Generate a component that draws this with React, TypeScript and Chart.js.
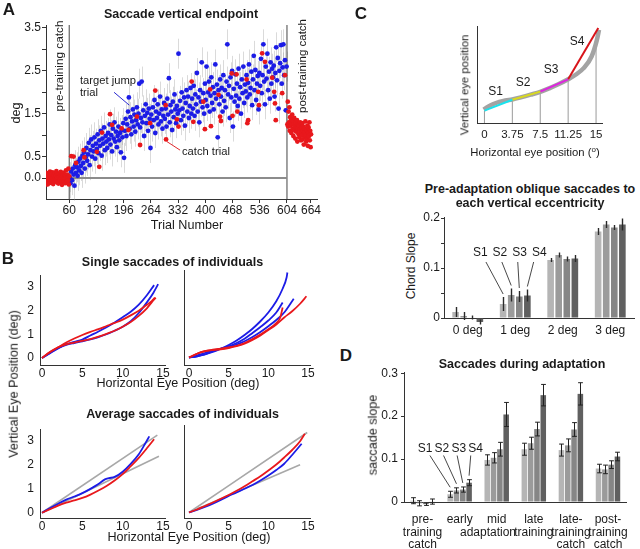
import React, { useEffect, useRef } from "react";
import { Chart, registerables } from "chart.js";
Chart.register(...registerables);

const FONT = "'Liberation Sans', Arial, Helvetica, sans-serif";
Chart.defaults.font.family = FONT;
Chart.defaults.color = "#1a1a1a";

// ---------------- Panel A data ----------------
const aXTicks = [60, 128, 196, 264, 332, 400, 468, 536, 604, 664];
const aYTicks = [0, 0.5, 1, 1.5, 2, 2.5, 3, 3.5];
const aYTickLabels = ["0.0", "0.5", "", "1.5", "", "2.5", "", "3.5"];
const preFirstTrial = 1;
const preCatchValues = [
  0.05, -0.08, 0.12, -0.02, 0.08, -0.15, 0.02, 0.1, -0.05, -0.12, 0.06, 0.15, -0.03, 0.04, -0.1,
  0.09, -0.06, 0.0, 0.13, -0.14, 0.03, 0.07, -0.09, 0.11, -0.01, -0.07, 0.05, 0.16, -0.04, 0.02,
  -0.11, 0.08, -0.13, 0.01, 0.1, -0.06, 0.04, -0.02, 0.14, -0.09, 0.06, -0.16, 0.03, 0.09, -0.04,
  0.12, -0.08, 0.0, 0.07, -0.12, 0.05, 0.18, -0.03, -0.1, 0.08, 0.02, -0.05, 0.22, -0.15, 0.04,
];
const postFirstTrial = 605;
const postCatchValues = [
  1.25, 1.78, 1.2, 1.55, 1.3, 1.65, 1.1, 1.42, 1.22, 1.35, 1.05, 1.28, 1.48, 1.15, 1.32, 0.98,
  1.25, 1.4, 1.12, 1.2, 0.92, 1.3, 1.08, 1.18, 1.35, 0.85, 1.15, 1.25, 1.02, 1.22, 0.95, 1.12,
  1.3, 1.05, 0.88, 1.18, 1.0, 1.28, 0.9, 1.1, 1.2, 0.78, 1.05, 1.15, 0.95, 1.32, 1.0, 0.85, 1.12,
  0.92, 1.22, 0.75, 1.05, 1.18, 0.98, 1.3, 0.88, 1.1, 0.72, 1.02,
];
const blueFirstTrial = 61;
const blueTrialStep = 2;
const blueValues = [
  0.02, -0.12, 0.15, -0.05, 0.22, 0.08, -0.18, 0.3, 0.12, 0.25, 0.05, 0.38, 0.18, 0.45, 0.28, 0.12, 0.52,
  0.35, 0.6, 0.22, 0.48, 0.7, 0.4, 0.55, 0.82, 0.3, 0.65, 0.9, 0.5, 0.75, 0.62, 0.95, 0.45, 0.8,
  0.68, 1.02, 0.58, 0.88, 0.75, 1.1, 0.52, 0.92, 0.8, 1.18, 0.65, 0.98, 0.85, 0.7, 1.05, 0.9, 1.25,
  0.78, 1.0, 0.62, 1.15, 0.92, 1.3, 0.85, 1.08, 0.72, 0.98, 1.2, 0.88, 1.05, 0.6, 1.12, 0.95, 1.28,
  0.47, 1.1, 1.38, 0.98, 1.25, 1.55, 1.88, 1.15, 1.42, 1.02, 1.32, 1.6, 1.2, 1.48, 1.08, 1.35, 1.65,
  1.25, 1.5, 2.2, 1.18, 1.4, 2.25, 1.3, 1.58, 0.98, 1.45, 1.72, 1.28, 1.52, 1.1, 1.62, 1.38, 0.7,
  1.48, 1.2, 1.65, 1.35, 1.82, 1.05, 1.55, 1.4, 1.72, 1.25, 1.5, 1.9, 1.32, 1.6, 1.15, 1.45, 1.75,
  1.38, 1.62, 1.2, 1.85, 1.48, 2.33, 1.3, 1.7, 1.55, 1.12, 1.78, 1.42, 1.95, 1.6, 1.28, 1.68, 1.5,
  2.9, 1.58, 1.8, 1.35, 2.0, 1.62, 1.45, 1.88, 1.22, 1.75, 2.05, 1.55, 1.9, 1.4, 1.68, 2.1, 1.5,
  1.85, 1.62, 2.15, 1.45, 1.95, 1.72, 2.45, 1.55, 1.88, 1.3, 2.05, 1.78, 2.7, 1.65, 1.98, 1.5, 2.2,
  1.82, 2.6, 1.68, 2.0, 2.25, 1.55, 1.92, 2.35, 1.75, 2.12, 1.6, 1.98, 2.65, 1.85, 2.18, 0.95, 2.05,
  1.72, 2.3, 1.9, 2.1, 1.55, 2.4, 1.8, 2.05, 1.65, 2.25, 3.12, 1.95, 2.15, 1.4, 2.35, 1.88, 2.5,
  1.2, 2.08, 1.78, 2.42, 1.92, 2.2, 1.68, 2.55, 1.85, 2.12, 1.5, 2.3, 1.98, 2.6, 1.75, 2.18, 2.02,
  2.4, 1.88, 2.22, 2.65, 1.95, 2.1, 2.48, 1.7, 2.3, 2.85, 2.05, 2.52, 1.82, 2.2, 2.38, 1.6, 2.45,
  2.15, 2.78, 1.98, 2.4, 3.12, 2.25, 1.72, 2.6, 2.32, 2.9, 2.05, 2.48, 1.85, 2.7, 2.2, 2.55, 2.35,
  2.62, 1.9, 2.45, 3.05, 2.28, 2.8, 1.62, 2.5, 2.68, 3.1, 2.2, 2.58, 3.12, 2.4, 2.75, 1.58, 2.6,
];
const blueErr = 0.35;
const catchTrials = [65, 71, 77, 96, 98, 129, 135, 142, 162, 167, 191, 208, 229, 237, 262, 275, 301, 302, 329, 333, 366, 370, 395, 399, 412, 414, 433, 437, 439, 466, 468, 478, 480, 503, 505, 507, 532, 534, 542, 549, 567, 572, 574, 576, 592, 599];
const catchValues = [0.51, 0.5, 0.35, 0.65, 0.48, 0.61, 0.26, 1.06, 1.49, 1.24, 1.16, 1.12, 1.43, 0.77, 1.28, 2.04, 1.7, 0.9, 1.37, 1.2, 2.25, 1.31, 1.78, 1.14, 2.07, 1.21, 1.94, 1.43, 1.33, 2.44, 1.45, 2.42, 1.55, 2.3, 1.28, 1.35, 2.01, 1.7, 2.91, 2.71, 2.34, 2.01, 1.74, 1.35, 1.98, 2.4];
const phaseBoundaries = [60, 604];
const targetJumpLeader = [[172, 2.0], [210, 1.7]];
const catchLeader = [[304, 0.85], [337, 0.65]];

// ---------------- Panel B data ----------------
const bTicksX = [0, 5, 10, 15];
const bTicksY = [0, 1, 2, 3];
const singleL_blue1 = [[0, 0], [1, 0.2], [2, 0.4], [3, 0.58], [4, 0.68], [5, 0.78], [6, 0.95], [7, 1.12], [8, 1.3], [9, 1.5], [10, 1.72], [11, 1.95], [12, 2.25], [13, 2.65], [13.9, 3.08]];
const singleL_blue2 = [[0, 0], [1, 0.22], [2, 0.42], [3, 0.55], [4, 0.63], [5, 0.7], [6, 0.78], [7, 0.88], [8, 1.0], [9, 1.15], [10, 1.32], [11, 1.55], [12, 1.9], [13, 2.35], [13.8, 2.75], [14.4, 3.12]];
const singleL_red1 = [[0, 0], [1, 0.25], [2, 0.45], [3, 0.65], [4, 0.82], [5, 0.97], [6, 1.1], [7, 1.22], [8, 1.35], [9, 1.48], [10, 1.62], [11, 1.8], [12, 2.0], [13, 2.25], [13.6, 2.4], [14.0, 2.55]];
const singleL_red2 = [[0, 0], [1, 0.25], [2, 0.45], [3, 0.57], [4, 0.65], [5, 0.72], [6, 0.8], [7, 0.9], [8, 1.02], [9, 1.15], [10, 1.32], [11, 1.52], [12, 1.78], [13, 2.1], [13.6, 2.35], [14.1, 2.55]];
const singleR_blue1 = [[0, 0], [1, 0.05], [2, 0.12], [3, 0.22], [4, 0.35], [5, 0.5], [6, 0.68], [7, 0.9], [8, 1.15], [9, 1.45], [10, 1.8], [11, 2.25], [11.8, 2.75], [12.3, 3.2], [12.4, 3.4]];
const singleR_blue2 = [[0, 0], [1, 0.08], [2, 0.18], [3, 0.27], [4, 0.36], [5, 0.45], [6, 0.58], [7, 0.75], [8, 0.98], [9, 1.22], [10, 1.48], [11, 1.8], [11.8, 2.2]];
const singleR_blue3 = [[0, 0], [1, 0.05], [2, 0.12], [3, 0.25], [4, 0.35], [5, 0.42], [6, 0.52], [7, 0.65], [8, 0.82], [9, 1.02], [10, 1.25], [11, 1.5], [12, 1.8], [13.2, 2.35]];
const singleR_red1 = [[0, 0], [1, 0.15], [2, 0.25], [3, 0.3], [4, 0.33], [5, 0.38], [6, 0.45], [7, 0.55], [8, 0.7], [9, 0.88], [10, 1.1], [11, 1.32], [12, 1.6], [13, 1.85], [14, 2.15], [14.8, 2.45]];
const singleR_red2 = [[0, 0], [1, 0.15], [2, 0.26], [3, 0.31], [4, 0.35], [5, 0.4], [6, 0.47], [7, 0.58], [8, 0.74], [9, 0.92], [10, 1.13], [11, 1.38], [11.5, 1.6], [11.8, 2.0]];
const avgL_grayHi = [[0, 0], [14.3, 3.25]];
const avgL_grayLo = [[0, 0], [14.5, 2.37]];
const avgL_blue = [[0, 0], [1, 0.2], [2, 0.38], [3, 0.55], [4, 0.68], [5, 0.82], [6, 1.0], [7, 1.2], [7.8, 1.4], [8.3, 1.45], [9, 1.5], [10, 1.72], [11, 2.05], [12, 2.45], [12.8, 2.9], [13.3, 3.2]];
const avgL_red = [[0, 0], [1, 0.15], [2, 0.3], [3, 0.42], [4, 0.52], [5, 0.62], [6, 0.76], [7, 0.93], [8, 1.12], [9, 1.35], [10, 1.62], [11, 1.95], [12, 2.3], [13, 2.7], [13.9, 3.08]];
const avgR_grayHi = [[0, 0], [14.9, 3.2]];
const avgR_grayLo = [[0, 0], [14.0, 1.91]];
const avgR_blue = [[0, 0], [1, 0.1], [2, 0.22], [3, 0.35], [4, 0.5], [5, 0.66], [6, 0.8], [7, 0.95], [8, 1.1], [9, 1.28], [10, 1.48], [11, 1.7], [12, 1.95], [13, 2.3], [14.2, 2.75]];
const avgR_red = [[0, 0], [1, 0.12], [2, 0.26], [3, 0.4], [4, 0.55], [5, 0.7], [6, 0.87], [7, 1.05], [8, 1.25], [9, 1.45], [10, 1.68], [11, 1.92], [12, 2.2], [13, 2.5], [14, 2.85], [14.6, 3.15]];

// ---------------- Panel C data ----------------
const cTicksX = [0, 3.75, 7.5, 11.25, 15];
const cTickLabels = ["0", "3.75", "7.5", "11.25", "15"];
const cGrayCurve = [[-0.1, 1.4], [0.5, 1.72], [1.2, 2.0], [2, 2.22], [2.8, 2.38], [3.75, 2.48], [5, 2.72], [6.2, 2.98], [7.5, 3.28], [8.7, 3.65], [10, 4.1], [11.25, 4.6], [12.3, 5.1], [13.3, 5.75], [14.4, 7.0], [15.1, 8.7], [15.4, 9.8]];
const chordX = [0, 3.75, 7.5, 11.25, 15.3];
const chordY = [1.3, 2.45, 3.3, 4.6, 10.0];
const dropTop = [1.3, 2.45, 3.3, 4.6, 8.6];
const chordColors = ["#19e3ee", "#d9d91e", "#e022e0", "#d8141a"];

const sNames = ["S1", "S2", "S3", "S4"];
const barColors = ["#b5b5b5", "#9b9b9b", "#868686", "#606060"];
const cCats = ["0 deg", "1 deg", "2 deg", "3 deg"];
const cYTicks = [0, 0.05, 0.1, 0.15, 0.2];
const cYTickLabels = ["0", "", "0.1", "", "0.2"];
const cS1 = [0.012, 0.028, 0.116, 0.173];
const cS2 = [0.004, 0.046, 0.126, 0.187];
const cS3 = [0.001, 0.043, 0.118, 0.181];
const cS4 = [-0.008, 0.045, 0.119, 0.187];
const cS1Err = [0.01, 0.014, 0.004, 0.007];
const cS2Err = [0.008, 0.013, 0.005, 0.007];
const cS3Err = [0.004, 0.011, 0.005, 0.005];
const cS4Err = [0.005, 0.012, 0.007, 0.012];

// ---------------- Panel D data ----------------
const dCats = [["pre-", "training", "catch"], ["early"], ["mid"], ["late", "training"], ["late-", "training", "catch"], ["post-", "training", "catch"]];
const dYTicks = [0, 0.1, 0.2, 0.3];
const dYTickLabels = ["0", "0.1", "0.2", "0.3"];
const dS1 = [0.003, 0.018, 0.098, 0.123, 0.121, 0.078];
const dS2 = [-0.003, 0.027, 0.103, 0.137, 0.132, 0.076];
const dS3 = [-0.005, 0.029, 0.123, 0.17, 0.169, 0.087];
const dS4 = [0.001, 0.045, 0.204, 0.249, 0.252, 0.106];
const dS1Err = [0.007, 0.007, 0.012, 0.014, 0.014, 0.01];
const dS2Err = [0.006, 0.006, 0.012, 0.014, 0.015, 0.01];
const dS3Err = [0.003, 0.006, 0.016, 0.016, 0.016, 0.009];
const dS4Err = [0.006, 0.007, 0.028, 0.025, 0.026, 0.01];

// ---------------- helpers ----------------
const BLUE = "#1c1ce6";
const RED = "#e8181c";
const AXIS = "#333";

function pts(arr: number[][]) {
  return arr.map(([x, y]) => ({ x, y }));
}

function drawErr(chart: any, when: string) {
  const ctx = chart.ctx;
  const ys = chart.scales.y;
  chart.data.datasets.forEach((ds: any, di: number) => {
    const e = ds.errors;
    if (e === undefined || (ds.errWhen || "front") !== when) return;
    const meta = chart.getDatasetMeta(di);
    ctx.save();
    ctx.strokeStyle = ds.errColor || "#333";
    ctx.lineWidth = ds.errWidth || 1;
    meta.data.forEach((el: any, i: number) => {
      const raw = ds.data[i];
      const v = typeof raw === "number" ? raw : raw.y;
      const err = Array.isArray(e) ? e[i] : e;
      const x = Math.round(el.x) + 0.5;
      const y1 = ys.getPixelForValue(v + err);
      const y2 = ys.getPixelForValue(v - err);
      ctx.beginPath();
      ctx.moveTo(x, y1);
      ctx.lineTo(x, y2);
      if (ds.errCap) {
        const c = ds.errCap;
        ctx.moveTo(x - c, y1);
        ctx.lineTo(x + c, y1);
        ctx.moveTo(x - c, y2);
        ctx.lineTo(x + c, y2);
      }
      ctx.stroke();
    });
    ctx.restore();
  });
}

const errorBars = {
  id: "errorBars",
  beforeDatasetsDraw(chart: any) {
    drawErr(chart, "behind");
  },
  afterDatasetsDraw(chart: any) {
    drawErr(chart, "front");
  },
};

const sLabels = {
  id: "sLabels",
  afterDatasetsDraw(chart: any, _args: any, opts: any) {
    if (!opts || opts.cat === undefined) return;
    const ctx = chart.ctx;
    const xs = chart.scales.x;
    const ys = chart.scales.y;
    const cx = xs.getPixelForValue(opts.cat);
    const ly = ys.getPixelForValue(opts.value);
    ctx.save();
    ctx.font = `${opts.size}px ${FONT}`;
    ctx.fillStyle = "#1a1a1a";
    ctx.textAlign = "center";
    ctx.textBaseline = "middle";
    ctx.strokeStyle = "#333";
    ctx.lineWidth = 0.9;
    sNames.forEach((name, i) => {
      const lx = cx + opts.first + i * opts.spacing;
      ctx.fillText(name, lx, ly);
      const ds = chart.data.datasets[i];
      const el = chart.getDatasetMeta(i).data[opts.cat];
      const top = ys.getPixelForValue(ds.data[opts.cat] + ds.errors[opts.cat]);
      ctx.beginPath();
      ctx.moveTo(lx + (1.5 - i) * opts.dx, ly + opts.drop);
      ctx.lineTo(el.x, top - opts.gap);
      ctx.stroke();
    });
    ctx.restore();
  },
};

type Box = { l: number; t: number; w: number; h: number };
type Area = { l: number; t: number; r: number; b: number };

function frame(c: Box, a: Area) {
  return {
    padding: { top: a.t - c.t, right: c.l + c.w - a.r, left: 0, bottom: 0 },
    yW: a.l - c.l,
    xH: c.t + c.h - a.b,
  };
}

function fixedTicks(values: number[]) {
  return (s: any) => {
    s.ticks = values.map((v) => ({ value: v }));
  };
}

const noGrid = { display: false, drawTicks: false, tickLength: 0 };

function ChartBox({ box, make }: { box: Box; make: () => any }) {
  const ref = useRef<HTMLCanvasElement>(null);
  useEffect(() => {
    const c = new Chart(ref.current as HTMLCanvasElement, make());
    return () => c.destroy();
  }, []);
  return (
    <canvas
      ref={ref}
      width={box.w}
      height={box.h}
      style={{ position: "absolute", left: box.l, top: box.t, width: box.w, height: box.h }}
    />
  );
}

// ---------------- Panel A ----------------
const boxA: Box = { l: 0, t: 0, w: 330, h: 232 };
const areaA: Area = { l: 46, t: 25, r: 317, b: 199 };
function makeA() {
  const f = frame(boxA, areaA);
  const yMin = -0.49;
  const yMax = 3.57;
  const lineDs = (data: any[], color: string, width: number, order: number) => ({
    type: "line",
    data,
    borderColor: color,
    borderWidth: width,
    pointRadius: 0,
    showLine: true,
    fill: false,
    order,
  });
  return {
    type: "scatter",
    data: {
      datasets: [
        lineDs(pts(targetJumpLeader), "#2a2ad0", 1, 0),
        lineDs(pts(catchLeader), "#e0282c", 1, 0),
        {
          data: catchTrials.map((t, i) => ({ x: t, y: catchValues[i] })),
          backgroundColor: RED,
          pointRadius: 2.4,
          borderWidth: 0,
          order: 1,
        },
        {
          data: preCatchValues.map((v, i) => ({ x: preFirstTrial + i, y: v })),
          backgroundColor: RED,
          pointRadius: 2.4,
          borderWidth: 0,
          order: 1,
        },
        {
          data: postCatchValues.map((v, i) => ({ x: postFirstTrial + i, y: v })),
          backgroundColor: RED,
          pointRadius: 2.4,
          borderWidth: 0,
          order: 1,
        },
        {
          data: blueValues.map((v, i) => ({ x: blueFirstTrial + blueTrialStep * i, y: v })),
          backgroundColor: BLUE,
          pointRadius: 2.4,
          borderWidth: 0,
          order: 2,
          errors: blueErr,
          errWhen: "behind",
          errColor: "rgba(150,150,150,0.35)",
          errWidth: 1,
        },
        lineDs([{ x: 2, y: 0 }, { x: phaseBoundaries[1], y: 0 }], "#8c8c8c", 2, 5),
        lineDs([{ x: phaseBoundaries[0], y: yMin }, { x: phaseBoundaries[0], y: yMax }], "#444", 1, 5),
        lineDs([{ x: phaseBoundaries[1], y: yMin }, { x: phaseBoundaries[1], y: yMax }], "#444", 1, 5),
      ],
    },
    options: {
      responsive: false,
      animation: false,
      devicePixelRatio: 1,
      layout: { padding: f.padding, autoPadding: false },
      plugins: { legend: { display: false }, tooltip: { enabled: false } },
      scales: {
        x: {
          type: "linear",
          min: 2,
          max: 679,
          afterBuildTicks: fixedTicks(aXTicks),
          afterFit: (s: any) => { s.height = f.xH; },
          ticks: { font: { size: 12 }, padding: 0, maxRotation: 0, autoSkip: false, callback: (v: any) => String(v) },
          grid: { display: true, drawOnChartArea: false, drawTicks: true, tickLength: 4, color: AXIS },
          border: { display: true, color: AXIS },
        },
        y: {
          min: yMin,
          max: yMax,
          afterBuildTicks: fixedTicks(aYTicks),
          afterFit: (s: any) => { s.width = f.yW; },
          ticks: { font: { size: 12 }, padding: 1, callback: (_v: any, i: number) => aYTickLabels[i] },
          grid: { display: true, drawOnChartArea: false, drawTicks: true, tickLength: 4, color: AXIS },
          border: { display: true, color: AXIS },
        },
      },
    },
    plugins: [errorBars],
  };
}

// ---------------- Panel B ----------------
function makeB(box: Box, area: Area, curves: { d: number[][]; c: string; w?: number }[], xMin: number, yMin: number, showY: boolean) {
  const f = frame(box, area);
  return () => ({
    type: "line",
    data: {
      datasets: curves.map((cv, i) => ({
        data: pts(cv.d),
        borderColor: cv.c,
        borderWidth: cv.w || 1.8,
        pointRadius: 0,
        cubicInterpolationMode: "monotone",
        fill: false,
        clip: false,
        order: i,
      })),
    },
    options: {
      responsive: false,
      animation: false,
      devicePixelRatio: 1,
      layout: { padding: f.padding, autoPadding: false },
      plugins: { legend: { display: false }, tooltip: { enabled: false } },
      scales: {
        x: {
          type: "linear",
          min: xMin,
          max: 15.25,
          afterBuildTicks: fixedTicks(bTicksX),
          afterFit: (s: any) => { s.height = f.xH; },
          ticks: { font: { size: 12 }, padding: 1, maxRotation: 0 },
          grid: noGrid,
          border: { display: true, color: AXIS },
        },
        y: {
          type: "linear",
          min: yMin,
          max: 3.5,
          afterBuildTicks: fixedTicks(bTicksY),
          afterFit: (s: any) => { s.width = f.yW; },
          ticks: { display: showY, font: { size: 12 }, padding: 6 },
          grid: noGrid,
          border: { display: true, color: AXIS },
        },
      },
    },
  });
}

const boxBTL: Box = { l: 0, t: 262, w: 172, h: 120 };
const areaBTL: Area = { l: 40, t: 270, r: 165, b: 365 };
const boxBTR: Box = { l: 172, t: 262, w: 145, h: 120 };
const areaBTR: Area = { l: 184, t: 270, r: 310, b: 365 };
const boxBBL: Box = { l: 0, t: 416, w: 172, h: 120 };
const areaBBL: Area = { l: 40, t: 425, r: 165, b: 518 };
const boxBBR: Box = { l: 172, t: 416, w: 145, h: 120 };
const areaBBR: Area = { l: 184, t: 425, r: 310, b: 518 };
const GRAY = "#a8a8a8";

const makeBTL = makeB(boxBTL, areaBTL, [
  { d: singleL_red1, c: RED }, { d: singleL_red2, c: RED }, { d: singleL_blue1, c: BLUE }, { d: singleL_blue2, c: BLUE },
], -0.25, -0.3, true);
const makeBTR = makeB(boxBTR, areaBTR, [
  { d: singleR_red1, c: RED }, { d: singleR_red2, c: RED }, { d: singleR_blue1, c: BLUE }, { d: singleR_blue2, c: BLUE }, { d: singleR_blue3, c: BLUE },
], -0.63, -0.3, false);
const makeBBL = makeB(boxBBL, areaBBL, [
  { d: avgL_red, c: RED }, { d: avgL_blue, c: BLUE }, { d: avgL_grayHi, c: GRAY, w: 1.6 }, { d: avgL_grayLo, c: GRAY, w: 1.6 },
], -0.25, -0.22, true);
const makeBBR = makeB(boxBBR, areaBBR, [
  { d: avgR_red, c: RED }, { d: avgR_blue, c: BLUE }, { d: avgR_grayHi, c: GRAY, w: 1.6 }, { d: avgR_grayLo, c: GRAY, w: 1.6 },
], -0.63, -0.22, false);

// ---------------- Panel C top ----------------
const boxCT: Box = { l: 465, t: 16, w: 150, h: 132 };
const areaCT: Area = { l: 477, t: 26, r: 602, b: 123 };
function makeCT() {
  const f = frame(boxCT, areaCT);
  const chords = chordColors.map((c, i) => ({
    data: [{ x: chordX[i], y: chordY[i] }, { x: chordX[i + 1], y: chordY[i + 1] }],
    borderColor: c,
    borderWidth: 2,
    pointRadius: 0,
    clip: false,
    order: 0,
  }));
  const drops = cTicksX.map((x, i) => ({
    data: [{ x, y: 0 }, { x, y: dropTop[i] }],
    borderColor: "#9a9a9a",
    borderWidth: 1,
    pointRadius: 0,
    order: 3,
  }));
  return {
    type: "line",
    data: {
      datasets: [
        ...chords,
        { data: pts(cGrayCurve), borderColor: "#a3a3a3", borderWidth: 4.5, pointRadius: 0, cubicInterpolationMode: "monotone", clip: false, order: 2 },
        ...drops,
      ],
    },
    options: {
      responsive: false,
      animation: false,
      devicePixelRatio: 1,
      layout: { padding: f.padding, autoPadding: false },
      plugins: { legend: { display: false }, tooltip: { enabled: false } },
      scales: {
        x: {
          type: "linear",
          min: -1,
          max: 15.8,
          afterBuildTicks: fixedTicks(cTicksX),
          afterFit: (s: any) => { s.height = f.xH; },
          ticks: { font: { size: 11.5 }, padding: 5, maxRotation: 0, autoSkip: false, callback: (_v: any, i: number) => cTickLabels[i] },
          grid: noGrid,
          border: { display: true, color: AXIS },
        },
        y: {
          type: "linear",
          min: 0,
          max: 10.21,
          afterFit: (s: any) => { s.width = f.yW; },
          ticks: { display: false },
          grid: noGrid,
          border: { display: true, color: AXIS },
        },
      },
    },
  };
}

// ---------------- Bar charts ----------------
function makeBars(box: Box, area: Area, cats: any[], series: number[][], errs: number[][], yMax: number, yTicks: number[], yLabels: string[], o: any) {
  const f = frame(box, area);
  return () => ({
    type: "bar",
    data: {
      labels: cats,
      datasets: series.map((s, i) => ({
        label: sNames[i],
        data: s,
        backgroundColor: barColors[i],
        borderWidth: 0,
        categoryPercentage: o.cp,
        barPercentage: o.bp,
        clip: false,
        errors: errs[i],
        errColor: o.errColor,
        errWidth: o.errWidth,
        errCap: o.errCap,
      })),
    },
    options: {
      responsive: false,
      animation: false,
      devicePixelRatio: 1,
      layout: { padding: f.padding, autoPadding: false },
      plugins: { legend: { display: false }, tooltip: { enabled: false }, sLabels: o.sl },
      scales: {
        x: {
          afterFit: (s: any) => { s.height = f.xH; },
          ticks: { font: { size: 12, lineHeight: o.lh }, padding: o.xPad, maxRotation: 0, autoSkip: false },
          grid: noGrid,
          border: { display: true, color: AXIS },
        },
        y: {
          min: 0,
          max: yMax,
          afterBuildTicks: fixedTicks(yTicks),
          afterFit: (s: any) => { s.width = f.yW; },
          ticks: { font: { size: 12 }, padding: o.yPad, callback: (_v: any, i: number) => yLabels[i] },
          grid: { display: true, drawOnChartArea: false, drawTicks: true, tickLength: 3, color: AXIS },
          border: { display: true, color: AXIS },
        },
      },
    },
    plugins: [errorBars, sLabels],
  });
}

const boxCB: Box = { l: 418, t: 207, w: 222, h: 138 };
const areaCB: Area = { l: 444, t: 217, r: 634, b: 318 };
const makeCB = makeBars(boxCB, areaCB, cCats, [cS1, cS2, cS3, cS4], [cS1Err, cS2Err, cS3Err, cS4Err], 0.202, cYTicks, cYTickLabels, {
  cp: 0.68, bp: 0.82, errColor: "#2a2a2a", errWidth: 1.4, errCap: 0, lh: 1.2, xPad: 5, yPad: 1,
  sl: { cat: 1, value: 0.13, first: -35, spacing: 19.7, dx: 3.8, drop: 9, gap: 3, size: 12 },
});

const boxD: Box = { l: 378, t: 362, w: 262, h: 187 };
const areaD: Area = { l: 404, t: 371, r: 636, b: 502 };
const makeD = makeBars(boxD, areaD, dCats, [dS1, dS2, dS3, dS4], [dS1Err, dS2Err, dS3Err, dS4Err], 0.3025, dYTicks, dYTickLabels, {
  cp: 0.68, bp: 0.88, errColor: "#222", errWidth: 1, errCap: 2.4, lh: 1.02, xPad: 12, yPad: 3,
  sl: { cat: 1, value: 0.1247, first: -34.5, spacing: 16.8, dx: 3.2, drop: 7, gap: 4, size: 12 },
});

// ---------------- Text ----------------
function T({ x, y, size = 12.6, bold = false, rot = false, left = false, children }: any) {
  return (
    <div
      style={{
        position: "absolute",
        left: x,
        top: y,
        transform: `translate(${left ? "0" : "-50%"},-50%)${rot ? " rotate(-90deg)" : ""}`,
        whiteSpace: "nowrap",
        fontSize: size,
        fontWeight: bold ? 700 : 400,
        lineHeight: 1,
        fontFamily: FONT,
        color: "#1a1a1a",
      }}
    >
      {children}
    </div>
  );
}

export default function App() {
  return (
    <div style={{ position: "fixed", left: 0, top: 0, width: 640, height: 549, background: "#fff", overflow: "hidden" }}>
      <ChartBox box={boxA} make={makeA} />
      <ChartBox box={boxBTL} make={makeBTL} />
      <ChartBox box={boxBTR} make={makeBTR} />
      <ChartBox box={boxBBL} make={makeBBL} />
      <ChartBox box={boxBBR} make={makeBBR} />
      <ChartBox box={boxCT} make={makeCT} />
      <ChartBox box={boxCB} make={makeCB} />
      <ChartBox box={boxD} make={makeD} />

      {/* Panel A */}
      <T x={9} y={9} size={17} bold>A</T>
      <T x={181} y={14} size={12.5} bold>Saccade vertical endpoint</T>
      <T x={16} y={113} rot>deg</T>
      <T x={187} y={225}>Trial Number</T>
      <T x={59.5} y={66} size={11.8} rot>pre-training catch</T>
      <T x={303} y={66} size={11.5} rot>post-training catch</T>
      <T x={80} y={81} size={11.2} left>target jump</T>
      <T x={80} y={93} size={11.2} left>trial</T>
      <T x={182} y={152} size={11.2} left>catch trial</T>

      {/* Panel B */}
      <T x={8} y={257.5} size={17} bold>B</T>
      <T x={172.5} y={261.5} size={12.5} bold>Single saccades of individuals</T>
      <T x={178} y={383}>Horizontal Eye Position (deg)</T>
      <T x={182.5} y={414} size={12.5} bold>Average saccades of individuals</T>
      <T x={189} y={536.5}>Horizontal Eye Position (deg)</T>
      <T x={14} y={384} rot>Vertical Eye Position (deg)</T>

      {/* Panel C */}
      <T x={361} y={13} size={17} bold>C</T>
      <T x={465} y={85} size={11.3} rot>Vertical eye position</T>
      <T x={535} y={152} size={11.3}>
        Horizontal eye position (<sup style={{ fontSize: 8, verticalAlign: "4px" }}>o</sup>)
      </T>
      <T x={495.5} y={91} size={12}>S1</T>
      <T x={523} y={82} size={12}>S2</T>
      <T x={551} y={69} size={12}>S3</T>
      <T x={577} y={41} size={12}>S4</T>
      <T x={530} y={189} size={12.5} bold>Pre-adaptation oblique saccades to</T>
      <T x={530} y={203} size={12.5} bold>each vertical eccentricity</T>
      <T x={411} y={266} size={12} rot>Chord Slope</T>

      {/* Panel D */}
      <T x={346} y={355} size={17} bold>D</T>
      <T x={522} y={364} size={12.5} bold>Saccades during adaptation</T>
      <T x={373} y={435} size={12.6} rot>saccade slope</T>
      <T x={488} y={532} size={12}>adaptation</T>
    </div>
  );
}
